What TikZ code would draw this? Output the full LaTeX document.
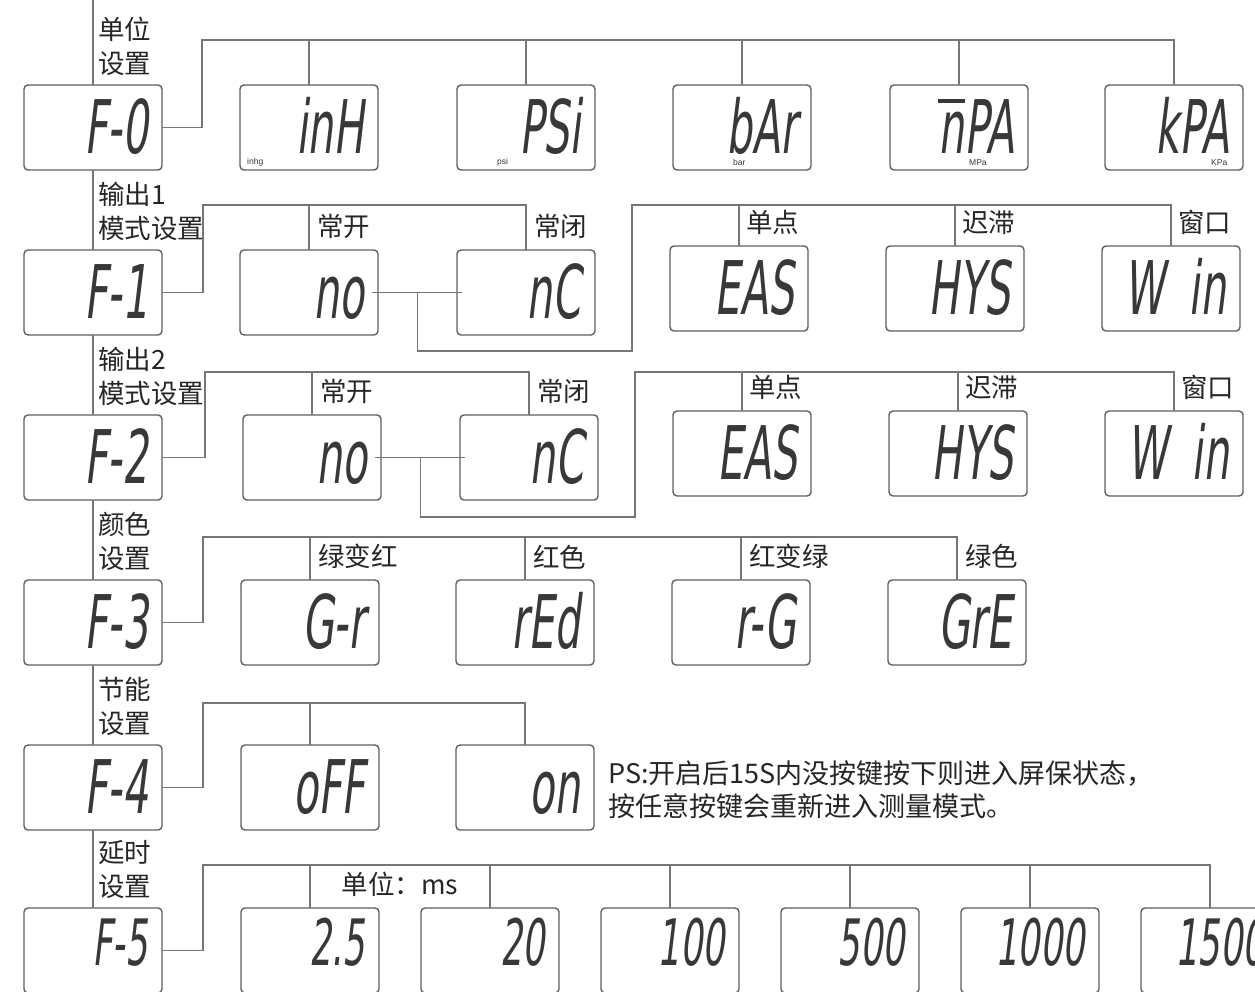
\documentclass[tikz,border=0pt]{standalone}
\usepackage{fontspec}
\usetikzlibrary{positioning,calc}
\newfontfamily\cjk{Noto Sans CJK SC}
\newfontfamily\lcdfont[FakeSlant=0.12,FakeStretch=0.55]{DejaVu Sans}
\newfontfamily\unitfont{Liberation Sans}
\definecolor{framegray}{HTML}{5E5E5E}
\definecolor{wiregray}{HTML}{767676}
\definecolor{segink}{HTML}{383838}
\definecolor{labelink}{HTML}{262626}
\newcommand\barn{\rlap{\raisebox{0.68em}{\rule{0.36em}{0.06em}}}n}

\tikzset{
  lcd/.style={draw=framegray,line width=1.4pt,rounded corners=4pt,fill=white,outer sep=0pt,
    minimum width=138pt,minimum height=85pt,text width=110pt,align=right,
    inner sep=0pt,text height=54pt,text depth=2pt,text=segink,
    font=\lcdfont\fontsize{74}{74}\selectfont},
  lcdsmall/.style={lcd,text height=47pt,text depth=17pt,font=\lcdfont\fontsize{64}{64}\selectfont},
  wire/.style={draw=wiregray,line width=1.3pt},
  sect/.style={font=\cjk\fontsize{26.5}{34}\selectfont,align=left,anchor=south west,inner sep=0pt,text=labelink},
  opt/.style={font=\cjk\fontsize{26.5}{30}\selectfont,anchor=south west,inner sep=0pt,text=labelink},
  unit/.style={font=\unitfont\fontsize{8.5}{8.5}\selectfont,anchor=south west,inner sep=0pt,text=segink},
}

\begin{document}
\begin{tikzpicture}[x=1pt,y=-1pt]
\useasboundingbox (0,0) rectangle (1255,991);
\clip (0,0) rectangle (1255,991);
\fill[white] (0,0) rectangle (1255,991);

% F-0 unit
\node[lcd] (F0) at (93,127.5) {F-0};
\node[lcd,right=78pt of F0] (inH) {inH};
\node[lcd,right=79pt of inH] (PSi) {PSi};
\node[lcd,right=78pt of PSi] (bAr) {bAr};
\node[lcd,right=79pt of bAr] (nPA) {\barn PA};
\node[lcd,right=77pt of nPA] (kPA) {kPA};
\node[unit,xshift=7pt,yshift=4pt] (u1) at (inH.south west) {inhg};
\node[unit,xshift=40pt,yshift=4pt] (u2) at (PSi.south west) {psi};
\node[unit,xshift=60pt,yshift=4pt] (u3) at (bAr.south west) {bar};
\node[unit,xshift=79pt,yshift=4pt] (u4) at (nPA.south west) {MPa};
\node[unit,xshift=106pt,yshift=4pt] (u5) at (kPA.south west) {KPa};

% F-1 output 1
\node[lcd,below=80pt of F0] (F1) {F-1};
\node[lcd,right=78pt of F1] (no1) {no};
\node[lcd,right=79pt of no1] (nC1) {nC};
\node[lcd,right=75pt of nC1,yshift=4pt] (EAS1) {EAS};
\node[lcd,right=78pt of EAS1] (HYS1) {HYS};
\node[lcd,right=78pt of HYS1] (Win1) {W~in};

% F-2 output 2
\node[lcd,below=80pt of F1] (F2) {F-2};
\node[lcd,right=81pt of F2] (no2) {no};
\node[lcd,right=79pt of no2] (nC2) {nC};
\node[lcd,right=75pt of nC2,yshift=4pt] (EAS2) {EAS};
\node[lcd,right=78pt of EAS2] (HYS2) {HYS};
\node[lcd,right=78pt of HYS2] (Win2) {W~in};

% F-3 colour
\node[lcd,below=80pt of F2] (F3) {F-3};
\node[lcd,right=79pt of F3] (Gr) {G-r};
\node[lcd,right=77pt of Gr] (rEd) {rEd};
\node[lcd,right=78pt of rEd] (rG) {r-G};
\node[lcd,right=78pt of rG] (GrE) {GrE};

% F-4 power saving
\node[lcd,below=80pt of F3] (F4) {F-4};
\node[lcd,right=79pt of F4] (oFF) {oFF};
\node[lcd,right=77pt of oFF] (on) {on};

% F-5 delay
\node[lcdsmall,below=78pt of F4] (F5) {F-5};
\node[lcdsmall,right=79pt of F5] (d25) {2.5};
\node[lcdsmall,right=42pt of d25] (d20) {20};
\node[lcdsmall,right=42pt of d20] (d100) {100};
\node[lcdsmall,right=42pt of d100] (d500) {500};
\node[lcdsmall,right=42pt of d500] (d1000) {1000};
\node[lcdsmall,right=42pt of d1000] (d1500) {1500};

% left spine
\coordinate (top) at (F0.north |- 0,0);
\draw[wire] (top) -- (F0.north);
\foreach \a/\b in {F0/F1,F1/F2,F2/F3,F3/F4,F4/F5}
  \draw[wire] (\a.south) -- (\b.north);

% section titles
\node[sect,xshift=5pt,yshift=9pt] (t0) at (F0.north) {单位\\设置};
\node[sect,xshift=5pt,yshift=9pt] (t1) at (F1.north) {输出1\\模式设置};
\node[sect,xshift=5pt,yshift=9pt] (t2) at (F2.north) {输出2\\模式设置};
\node[sect,xshift=5pt,yshift=9pt] (t3) at (F3.north) {颜色\\设置};
\node[sect,xshift=5pt,yshift=9pt] (t4) at (F4.north) {节能\\设置};
\node[sect,xshift=5pt,yshift=9pt] (t5) at (F5.north) {延时\\设置};

% bars
\coordinate (b0) at ([xshift=40pt,yshift=45pt]F0.north east);
\coordinate (b1) at ([xshift=41pt,yshift=45pt]F1.north east);
\coordinate (b2) at ([xshift=43pt,yshift=43pt]F2.north east);
\coordinate (b3) at ([xshift=41pt,yshift=43pt]F3.north east);
\coordinate (b4) at ([xshift=41pt,yshift=42pt]F4.north east);
\coordinate (b5) at ([xshift=41pt,yshift=43pt]F5.north east);

\draw[wire] (F0.east) -| (b0) -| (kPA.north);
\foreach \n in {inH,PSi,bAr,nPA}
  \draw[wire] (\n.north) -- (\n.north |- b0);

\draw[wire] (F1.east) -| (b1) -| (nC1.north);
\draw[wire] (no1.north) -- (no1.north |- b1);
\coordinate (j1) at ($(no1.east)!0.5!(nC1.west)$);
\coordinate (k1) at ([xshift=37pt,yshift=-16pt]nC1.south east);
\draw[wire] ([xshift=-6pt]no1.east) -- ([xshift=5pt]nC1.west);
\draw[wire] (j1) |- (k1) -- (k1 |- b1) -| (Win1.north);
\foreach \n in {EAS1,HYS1}
  \draw[wire] (\n.north) -- (\n.north |- b1);

\draw[wire] (F2.east) -| (b2) -| (nC2.north);
\draw[wire] (no2.north) -- (no2.north |- b2);
\coordinate (j2) at ($(no2.east)!0.5!(nC2.west)$);
\coordinate (k2) at ([xshift=37pt,yshift=-17pt]nC2.south east);
\draw[wire] ([xshift=-6pt]no2.east) -- ([xshift=5pt]nC2.west);
\draw[wire] (j2) |- (k2) -- (k2 |- b2) -| (Win2.north);
\foreach \n in {EAS2,HYS2}
  \draw[wire] (\n.north) -- (\n.north |- b2);

\draw[wire] (F3.east) -| (b3) -| (GrE.north);
\foreach \n in {Gr,rEd,rG}
  \draw[wire] (\n.north) -- (\n.north |- b3);

\draw[wire] (F4.east) -| (b4) -| (on.north);
\draw[wire] (oFF.north) -- (oFF.north |- b4);

\draw[wire] (F5.east) -| (b5) -| (d1500.north);
\foreach \n in {d25,d20,d100,d500,d1000}
  \draw[wire] (\n.north) -- (\n.north |- b5);

% option labels
\node[opt,xshift=8pt,yshift=11pt] (o11) at (no1.north) {常开};
\node[opt,xshift=8pt,yshift=11pt] (o12) at (nC1.north) {常闭};
\node[opt,xshift=7pt,yshift=11pt] (o13) at (EAS1.north) {单点};
\node[opt,xshift=7pt,yshift=11pt] (o14) at (HYS1.north) {迟滞};
\node[opt,xshift=7pt,yshift=11pt] (o15) at (Win1.north) {窗口};
\node[opt,xshift=8pt,yshift=11pt] (o21) at (no2.north) {常开};
\node[opt,xshift=8pt,yshift=11pt] (o22) at (nC2.north) {常闭};
\node[opt,xshift=7pt,yshift=11pt] (o23) at (EAS2.north) {单点};
\node[opt,xshift=7pt,yshift=11pt] (o24) at (HYS2.north) {迟滞};
\node[opt,xshift=7pt,yshift=11pt] (o25) at (Win2.north) {窗口};
\node[opt,xshift=8pt,yshift=11pt] (o31) at (Gr.north) {绿变红};
\node[opt,xshift=8pt,yshift=11pt] (o32) at (rEd.north) {红色};
\node[opt,xshift=8pt,yshift=11pt] (o33) at (rG.north) {红变绿};
\node[opt,xshift=8pt,yshift=11pt] (o34) at (GrE.north) {绿色};
\node[opt,anchor=south,yshift=11pt] (msnote) at ($(d25.north)!0.5!(d20.north)$) {单位：ms};

% note
\node[opt,anchor=west,align=left,font=\cjk\fontsize{27}{33}\selectfont,xshift=14pt,yshift=-2pt] (ps) at (on.east)
  {PS:开启后15S内没按键按下则进入屏保状态，\\按任意按键会重新进入测量模式。};
\end{tikzpicture}
\end{document}
